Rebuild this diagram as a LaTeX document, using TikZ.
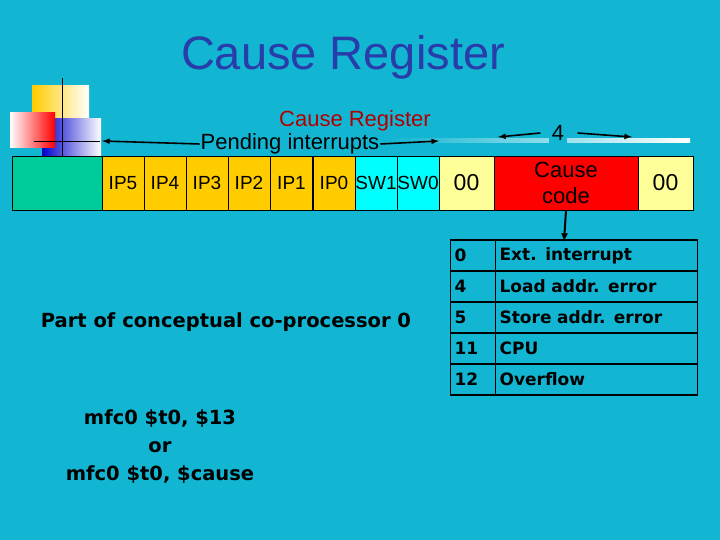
\documentclass[tikz,border=0pt]{standalone}
\usepackage{fontspec}
\setmainfont{Liberation Sans}
\newfontfamily\boldface{DejaVu Sans}
\usetikzlibrary{arrows,positioning}
\definecolor{bgcol}{RGB}{18,182,210}
\definecolor{titlecol}{RGB}{40,60,170}
\definecolor{ipcol}{RGB}{255,204,0}
\definecolor{swcol}{RGB}{0,255,255}
\definecolor{zerocol}{RGB}{255,255,153}
\definecolor{greencol}{RGB}{0,204,153}
\tikzset{
  cell/.style={draw=black,thin,minimum height=54pt,inner sep=0pt,font=\fontsize{19}{21}\selectfont},
  row/.style={draw=black,line width=1.2pt,minimum height=31pt,inner sep=4pt,anchor=west,align=left,
    font=\boldface\bfseries\fontsize{17}{19}\selectfont},
  code/.style={font=\boldface\bfseries\fontsize{19.5}{28}\selectfont},
  regarrow/.style={->,line width=1.6pt},
}
\begin{document}
\begin{tikzpicture}[x=1pt,y=-1pt,>=latex]
\fill[bgcol](0,0) rectangle (720,540);
\useasboundingbox (0,0) rectangle (720,540);
% Logo
\shade[left color=ipcol,right color=white](32,86) rectangle (89,120);
\shade[left color=blue!80!black,right color=white](42,119) rectangle (101,156);
\shade[left color=white,right color=red](10,113) rectangle (55,148);
\draw[thick](62,78)--(62,156);
\draw[thick](34,141)--(100,141);
\node[font=\fontsize{47}{50}\selectfont,text=titlecol] (title) at (343,57) {Cause Register};
% Register fields
\node[cell,fill=greencol,minimum width=90pt] (green) at (57,183) {};
\foreach \n/\x in {IP5/123,IP4/165,IP3/207,IP2/249,IP1/291.5,IP0/334}
  \node[cell,fill=ipcol,minimum width=42pt] (\n) at (\x,183) {\n};
\node[cell,fill=swcol,minimum width=42pt] (SW1) at (376,183) {SW1};
\node[cell,fill=swcol,minimum width=42pt] (SW0) at (418,183) {SW0};
\node[cell,fill=zerocol,minimum width=55pt,font=\fontsize{23}{25}\selectfont] (zeroa) at (466.5,183) {00};
\node[cell,fill=red,minimum width=144pt,align=center,font=\fontsize{22}{26}\selectfont] (code) at (566,183) {Cause\\code};
\node[cell,fill=zerocol,minimum width=55pt,font=\fontsize{23}{25}\selectfont] (zerob) at (665.5,183) {00};
% Labels above the register
\shade[left color=bgcol,right color=white](390,139) rectangle (690,143);
\node[text=red!70!black,font=\fontsize{22}{24}\selectfont] (reglabel) at (355,121) {Cause Register};
\node[font=\fontsize{22}{24}\selectfont,fill=bgcol,inner sep=1pt] (pending) at (290,144) {Pending interrupts};
\node[font=\fontsize{22}{24}\selectfont,fill=bgcol] (four) at (558,133) {4};
\coordinate (pl) at (102,141);
\coordinate (pr) at (439,141);
\coordinate (fl) at (498,137);
\coordinate (fr) at (632,137);
\draw[regarrow](pending.west)--(pl);
\draw[regarrow](pending.east)--(pr);
\draw[regarrow]([xshift=-8pt]four.west)--(fl);
\draw[regarrow]([xshift=10pt]four.east)--(fr);
% Cause code table
\coordinate (arrowend) at (564,242);
\draw[->,line width=2pt](code.south)--(arrowend);
\foreach \i/\v/\t in {0/0/Ext. interrupt,1/4/Load addr. error,2/5/Store addr. error,3/11/CPU,4/12/Overflow}{
  \node[row,minimum width=45pt,text width=37pt] (num\i) at (450,255.5+31*\i) {\v};
  \node[row,minimum width=202pt,text width=194pt] (txt\i) at (495,255.5+31*\i) {\t};
}
% Left texts
\node[code] (copro) at (226,322) {Part of conceptual co-processor 0};
\node[code,align=center] (mfc) at (160,447) {mfc0 \$t0, \$13\\or\\mfc0 \$t0, \$cause};
\end{tikzpicture}
\end{document}
